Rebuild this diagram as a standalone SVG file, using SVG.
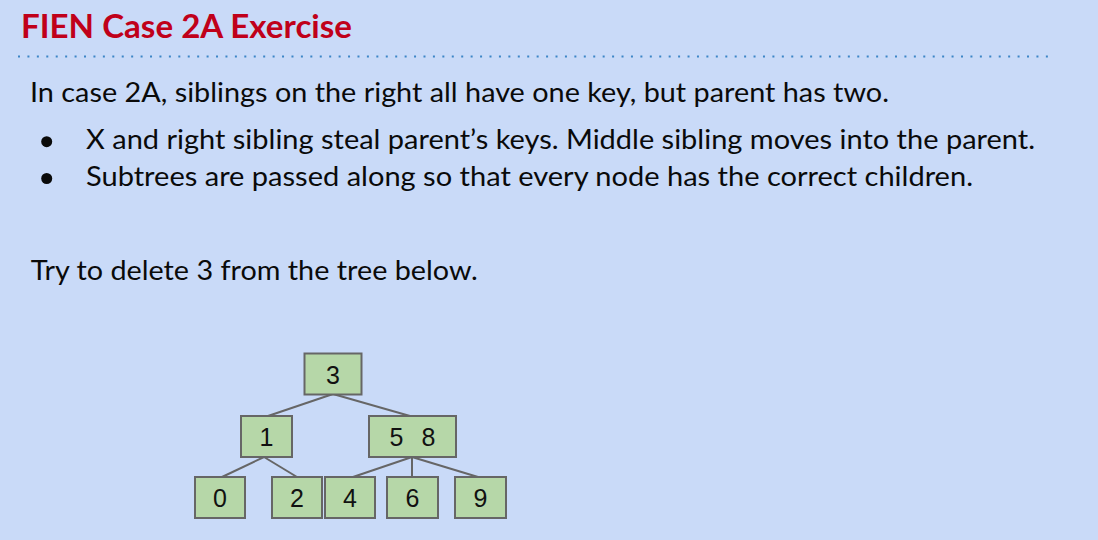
<svg xmlns="http://www.w3.org/2000/svg" width="1098" height="540" viewBox="0 0 1098 540">
<style>
.bg{fill:#c9daf8}
.title{font-family:Lato,"Open Sans","Liberation Sans",sans-serif;font-weight:bold;font-size:32.5px;fill:#c0001a}
.body{font-family:Lato,"Open Sans","Liberation Sans",sans-serif;font-size:27px;fill:#0a0a0a}
.node rect{fill:#b6d7a8;stroke:#666666;stroke-width:2}
.node text{font-family:"Liberation Sans",Arial,sans-serif;font-size:25px;fill:#111;text-anchor:middle}
.edges line{stroke:#666666;stroke-width:2}
</style>
<rect class="bg" x="0" y="0" width="1098" height="540"/>
<text class="title" x="21" y="37.5" textLength="331" lengthAdjust="spacingAndGlyphs">FIEN Case 2A Exercise</text>
<line x1="18" y1="56.5" x2="1053" y2="56.5" stroke="#3d85c6" stroke-width="2" stroke-dasharray="2 7.43"/>
<text class="body" x="30" y="102" textLength="859" lengthAdjust="spacingAndGlyphs">In case 2A, siblings on the right all have one key, but parent has two.</text>
<circle cx="46.7" cy="141.7" r="5.5" fill="#0a0a0a"/>
<text class="body" x="86" y="148.5" textLength="949" lengthAdjust="spacingAndGlyphs">X and right sibling steal parent’s keys. Middle sibling moves into the parent.</text>
<circle cx="46.7" cy="178.5" r="5.5" fill="#0a0a0a"/>
<text class="body" x="86" y="185.5" textLength="887" lengthAdjust="spacingAndGlyphs">Subtrees are passed along so that every node has the correct children.</text>
<text class="body" x="30.7" y="280" textLength="447" lengthAdjust="spacingAndGlyphs">Try to delete 3 from the tree below.</text>
<g class="edges">
<line x1="333" y1="394" x2="268" y2="416"/>
<line x1="333" y1="394" x2="410" y2="416"/>
<line x1="264" y1="457" x2="222" y2="477"/>
<line x1="264" y1="457" x2="297" y2="477"/>
<line x1="412" y1="457" x2="353" y2="477"/>
<line x1="412" y1="457" x2="412" y2="477"/>
<line x1="412" y1="457" x2="478" y2="477"/>
</g>
<g id="node-3" class="node"><rect x="304.5" y="353.5" width="57" height="41"/><text x="333" y="383.5">3</text></g>
<g id="node-1" class="node"><rect x="241" y="416" width="51" height="41"/><text x="266.5" y="446">1</text></g>
<g id="node-58" class="node"><rect x="369" y="416" width="87" height="41"/><text x="412.5" y="446" word-spacing="11">5 8</text></g>
<g id="node-0" class="node"><rect x="195" y="477" width="50" height="41"/><text x="220" y="507">0</text></g>
<g id="node-2" class="node"><rect x="272" y="477" width="50" height="41"/><text x="297" y="507">2</text></g>
<g id="node-4" class="node"><rect x="325" y="477" width="50" height="41"/><text x="350" y="507">4</text></g>
<g id="node-6" class="node"><rect x="387" y="477" width="51" height="41"/><text x="412.5" y="507">6</text></g>
<g id="node-9" class="node"><rect x="455" y="477" width="51" height="41"/><text x="480.5" y="507">9</text></g>
</svg>
